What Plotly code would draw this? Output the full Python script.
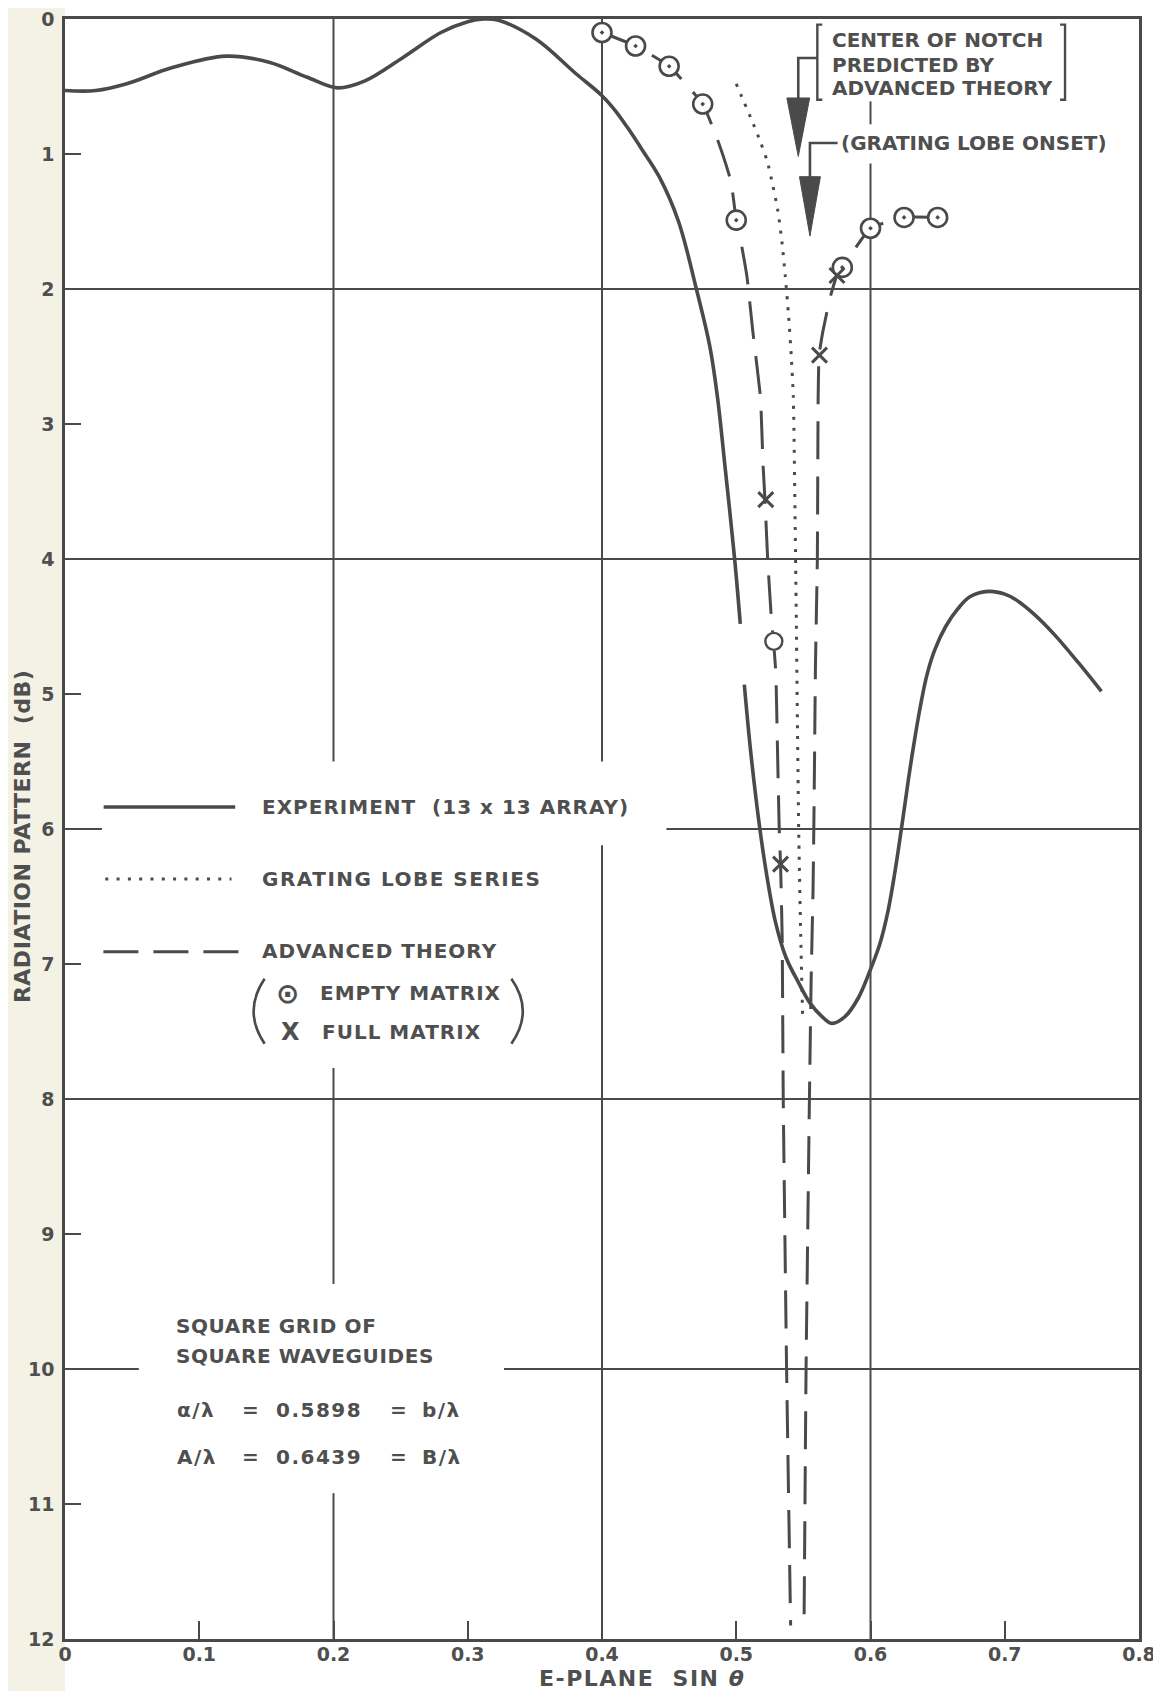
import plotly.graph_objects as go

# ---------------- data ----------------
# Experiment (13 x 13 array) - solid curve; None marks a pen gap
exp_x = [0.000, 0.023, 0.046, 0.080, 0.120, 0.152, 0.180, 0.203, 0.223, 0.251,
         0.280, 0.300, 0.312, 0.323, 0.351, 0.380, 0.400, 0.410, 0.4194, 0.430,
         0.4427, 0.457, 0.4703, 0.4804, 0.486, 0.492, 0.4988, 0.503, None,
         0.506, 0.511, 0.5176, 0.523, 0.529, 0.537, 0.5465, 0.555, 0.5639, 0.5711,
         0.581, 0.591, 0.600, 0.607, 0.613, 0.618, 0.623, 0.628, 0.632, 0.637,
         0.642, 0.648, 0.656, 0.665, 0.674, 0.688, 0.700, 0.708, 0.722, 0.737,
         0.755, 0.772]
exp_y = [0.53, 0.53, 0.48, 0.36, 0.275, 0.32, 0.43, 0.51, 0.46, 0.29,
         0.10, 0.02, 0.00, 0.01, 0.15, 0.40, 0.568, 0.68, 0.81, 0.97,
         1.17, 1.50, 2.00, 2.43, 2.80, 3.35, 4.00, 4.48, None,
         4.93, 5.45, 6.00, 6.36, 6.68, 6.95, 7.14, 7.29, 7.39, 7.44,
         7.39, 7.25, 7.04, 6.85, 6.61, 6.33, 6.00, 5.65, 5.39, 5.10,
         4.86, 4.67, 4.50, 4.37, 4.28, 4.24, 4.26, 4.30, 4.41, 4.56,
         4.77, 4.98]

# Advanced theory - dashed, left branch of the notch
theory_left_x = [0.400, 0.425, 0.450, 0.475, 0.487, 0.496, 0.500, 0.504, 0.508,
                 0.5123, 0.518, 0.520, 0.5214, 0.5234, 0.5263, 0.5278, 0.5295,
                 0.5308, 0.532, 0.533, 0.5342, 0.535, 0.5375, 0.5405]
theory_left_y = [0.10, 0.20, 0.35, 0.63, 0.92, 1.20, 1.49, 1.68, 1.91,
                 2.31, 2.80, 3.31, 3.56, 4.00, 4.46, 4.61, 4.85,
                 5.45, 6.00, 6.26, 6.80, 8.00, 10.0, 11.9]
# Advanced theory - dashed, right branch of the notch
theory_right_x = [0.650, 0.625, 0.600, 0.579, 0.575, 0.570, 0.5646, 0.5617, 0.561,
                  0.5604, 0.559, 0.558, 0.5572, 0.5558, 0.5545, 0.552, 0.5505]
theory_right_y = [1.47, 1.47, 1.55, 1.84, 1.90, 2.06, 2.31, 2.49, 2.81,
                  4.00, 4.79, 5.79, 6.45, 7.11, 8.00, 10.0, 11.9]

# Grating lobe series - dotted
grating_x = [0.500, 0.506, 0.512, 0.518, 0.523, 0.527, 0.531, 0.534, 0.5365,
             0.539, 0.541, 0.5425, 0.5442, 0.5465, 0.548, 0.5494]
grating_y = [0.48, 0.62, 0.76, 0.91, 1.05, 1.22, 1.42, 1.65, 1.90,
             2.20, 2.50, 2.80, 4.00, 6.00, 6.78, 7.37]

# Empty matrix points (circle with dot) and one plain circle
empty_x = [0.400, 0.425, 0.450, 0.475, 0.500, 0.579, 0.600, 0.625, 0.650]
empty_y = [0.10, 0.20, 0.35, 0.63, 1.49, 1.84, 1.55, 1.47, 1.47]
empty_plain_x = [0.528]
empty_plain_y = [4.61]

# Full matrix points (X)
full_x = [0.522, 0.533, 0.562, 0.575]
full_y = [3.56, 6.26, 2.49, 1.90]

# ticks
x_tick_vals = [0, 0.1, 0.2, 0.3, 0.4, 0.5, 0.6, 0.7, 0.8]
x_tick_text = ["0", "0.1", "0.2", "0.3", "0.4", "0.5", "0.6", "0.7", "0.8"]
y_tick_vals = [0, 1, 2, 3, 4, 5, 6, 7, 8, 9, 10, 11, 12]
y_tick_text = [str(v) for v in y_tick_vals]

# ---------------- styling ----------------
INK = "#4a4a4a"
TXT = "#4f4f4f"
FONT = "DejaVu Sans"
DASH_CURVE = "38px,17px"

fig = go.Figure()

fig.add_trace(go.Scatter(x=exp_x, y=exp_y, mode="lines", connectgaps=False,
                         line=dict(color=INK, width=3.6, shape="spline", smoothing=1.0),
                         hoverinfo="skip"))
fig.add_trace(go.Scatter(x=grating_x, y=grating_y, mode="lines",
                         line=dict(color=INK, width=3, dash="3px,8px", shape="spline", smoothing=0.5),
                         hoverinfo="skip"))
fig.add_trace(go.Scatter(x=theory_left_x, y=theory_left_y, mode="lines",
                         line=dict(color=INK, width=3, dash=DASH_CURVE, shape="spline", smoothing=0.4),
                         hoverinfo="skip"))
fig.add_trace(go.Scatter(x=theory_right_x, y=theory_right_y, mode="lines",
                         line=dict(color=INK, width=3, dash=DASH_CURVE, shape="spline", smoothing=0.4),
                         hoverinfo="skip"))
# white backing under circles
fig.add_trace(go.Scatter(x=empty_x + empty_plain_x, y=empty_y + empty_plain_y, mode="markers",
                         marker=dict(symbol="circle", size=19, color="white", line=dict(width=0)),
                         hoverinfo="skip"))
fig.add_trace(go.Scatter(x=empty_x, y=empty_y, mode="markers",
                         marker=dict(symbol="circle-open-dot", size=19, color=INK,
                                     line=dict(color=INK, width=2.6)),
                         hoverinfo="skip"))
fig.add_trace(go.Scatter(x=empty_plain_x, y=empty_plain_y, mode="markers",
                         marker=dict(symbol="circle-open", size=17, color=INK,
                                     line=dict(color=INK, width=2.4)),
                         hoverinfo="skip"))
fig.add_trace(go.Scatter(x=full_x, y=full_y, mode="markers",
                         marker=dict(symbol="x-thin-open", size=15, color=INK,
                                     line=dict(color=INK, width=3)),
                         hoverinfo="skip"))

shapes = []

# faint paper tint on the left margin (scanned page)
shapes.append(dict(type="rect", xref="paper", yref="paper", x0=-0.06, x1=0, y0=-0.04, y1=1.01,
                   fillcolor="#f3f2e4", line=dict(width=0), layer="below"))

# grid lines with the breaks left for the lettering
VGRID = [(0.2, [(0, 5.5), (7.77, 9.37), (10.92, 12)]),
         (0.4, [(0, 5.5), (6.12, 12)]),
         (0.6, [(0.61, 0.78), (1.07, 12)])]
HGRID = [(2, [(0, 0.8)]),
         (4, [(0, 0.8)]),
         (6, [(0, 0.0275), (0.448, 0.8)]),
         (8, [(0, 0.8)]),
         (10, [(0, 0.055), (0.327, 0.8)])]
for xv, segs in VGRID:
    for a, b in segs:
        shapes.append(dict(type="line", xref="x", yref="y", x0=xv, x1=xv, y0=a, y1=b,
                           line=dict(color=INK, width=2), layer="below"))
for yv, segs in HGRID:
    for a, b in segs:
        shapes.append(dict(type="line", xref="x", yref="y", x0=a, x1=b, y0=yv, y1=yv,
                           line=dict(color=INK, width=2), layer="below"))

# legend keys
shapes.append(dict(type="line", xref="x", yref="y", x0=0.0288, x1=0.1268, y0=5.837, y1=5.837,
                   line=dict(color=INK, width=3.6)))
shapes.append(dict(type="line", xref="x", yref="y", x0=0.0300, x1=0.1240, y0=6.37, y1=6.37,
                   line=dict(color=INK, width=3, dash="3px,8.3px")))
shapes.append(dict(type="line", xref="x", yref="y", x0=0.0286, x1=0.1292, y0=6.91, y1=6.91,
                   line=dict(color=INK, width=3, dash="35px,15px")))
# big parentheses around the marker keys
shapes.append(dict(type="path", xref="x", yref="y",
                   path="M 0.1487,7.11 Q 0.1323,7.35 0.1487,7.59", line=dict(color=INK, width=2.6)))
shapes.append(dict(type="path", xref="x", yref="y",
                   path="M 0.3325,7.11 Q 0.3495,7.35 0.3325,7.59", line=dict(color=INK, width=2.6)))

# brackets around the notch note
for x0, xf in [(0.5604, 0.5641), (0.7449, 0.7412)]:
    shapes.append(dict(type="path", xref="x", yref="y",
                       path=f"M {xf},0.042 L {x0},0.042 L {x0},0.598 L {xf},0.598",
                       line=dict(color=INK, width=2.4)))
# arrow 1 : centre of notch
shapes.append(dict(type="path", xref="x", yref="y",
                   path="M 0.5604,0.289 L 0.5462,0.289 L 0.5462,0.60",
                   line=dict(color=INK, width=2.6)))
shapes.append(dict(type="path", xref="x", yref="y",
                   path="M 0.5377,0.585 L 0.5547,0.585 L 0.5462,1.018 Z",
                   fillcolor=INK, line=dict(color=INK, width=1)))
# arrow 2 : grating lobe onset
shapes.append(dict(type="path", xref="x", yref="y",
                   path="M 0.5755,0.919 L 0.5549,0.919 L 0.5549,1.18",
                   line=dict(color=INK, width=2.6)))
shapes.append(dict(type="path", xref="x", yref="y",
                   path="M 0.5471,1.168 L 0.5627,1.168 L 0.5549,1.608 Z",
                   fillcolor=INK, line=dict(color=INK, width=1)))


def sp(text, px):
    return f'<span style="letter-spacing:{px}px">{text}</span>'


def note(x, y, text, size=20, spacing=1.0, xanchor="left", **kw):
    d = dict(x=x, y=y, xref="x", yref="y", text=sp(text, spacing) if spacing else text,
             showarrow=False, xanchor=xanchor, yanchor="middle",
             font=dict(family=FONT, size=size, color=TXT, weight="bold"))
    d.update(kw)
    return d


annotations = [
    note(0.1453, 5.84, "EXPERIMENT  (13 x 13 ARRAY)"),
    note(0.1453, 6.37, "GRATING LOBE SERIES", spacing=1.5),
    note(0.1453, 6.90, "ADVANCED THEORY"),
    note(0.1658, 7.215, "⊙", size=28, spacing=0, xanchor="center"),
    note(0.1886, 7.215, "EMPTY MATRIX"),
    note(0.1678, 7.50, "X", size=24, spacing=0, xanchor="center"),
    note(0.1897, 7.50, "FULL MATRIX"),
    note(0.081, 9.68, "SQUARE GRID OF", spacing=0.6),
    note(0.081, 9.906, "SQUARE WAVEGUIDES", spacing=0.6),
    note(0.5698, 0.153, "CENTER OF NOTCH", spacing=0),
    note(0.5698, 0.337, "PREDICTED BY", spacing=0),
    note(0.5698, 0.511, "ADVANCED THEORY", spacing=0),
    note(0.5762, 0.919, "(GRATING LOBE ONSET)", spacing=0),
]
# waveguide dimension lines, laid out in columns like the lettering guide
for yv, parts in [(10.30, ["α/λ", "=", "0.5898", "=", "b/λ"]),
                  (10.65, ["A/λ", "=", "0.6439", "=", "B/λ"])]:
    for xv, t in zip([0.0818, 0.1305, 0.1559, 0.2404, 0.2648], parts):
        annotations.append(note(xv, yv, t, spacing=1.5 if len(t) > 1 else 0))

# axis titles
annotations.append(dict(x=0.4298, y=0, xref="x", yref="paper", yanchor="middle", xanchor="center",
                        yshift=-39, text=sp("E-PLANE  SIN <i>θ</i>", 1.5), showarrow=False,
                        font=dict(family=FONT, size=22, color=TXT, weight="bold")))
annotations.append(dict(x=0, y=6.06, xref="paper", yref="y", xanchor="center", yanchor="middle",
                        xshift=-43, textangle=-90, text=sp("RADIATION PATTERN  (dB)", 0.5),
                        showarrow=False,
                        font=dict(family=FONT, size=22, color=TXT, weight="bold")))

# the page body adds an 8px offset, so the figure is sized to end at the window edge
fig.update_layout(
    width=1153, height=1683,
    margin=dict(l=57, r=22, t=11, b=52, autoexpand=False),
    paper_bgcolor="white", plot_bgcolor="white",
    showlegend=False,
    shapes=shapes, annotations=annotations,
    xaxis=dict(range=[0, 0.8], tickvals=x_tick_vals, ticktext=x_tick_text,
               ticks="inside", ticklen=18, tickwidth=2, tickcolor=INK,
               showgrid=False, zeroline=False, showline=True, linewidth=2.5,
               linecolor=INK, mirror=True, automargin=False, ticklabelstandoff=-4,
               ticklabeloverflow="allow",
               tickfont=dict(family=FONT, size=19, color=TXT, weight="bold")),
    yaxis=dict(range=[12, 0], tickvals=y_tick_vals, ticktext=y_tick_text,
               ticks="inside", ticklen=16, tickwidth=2, tickcolor=INK,
               showgrid=False, zeroline=False, showline=True, linewidth=2.5,
               linecolor=INK, mirror=True, automargin=False, ticklabelstandoff=4,
               ticklabeloverflow="allow",
               tickfont=dict(family=FONT, size=19, color=TXT, weight="bold")),
)

fig.write_html("out.html")
